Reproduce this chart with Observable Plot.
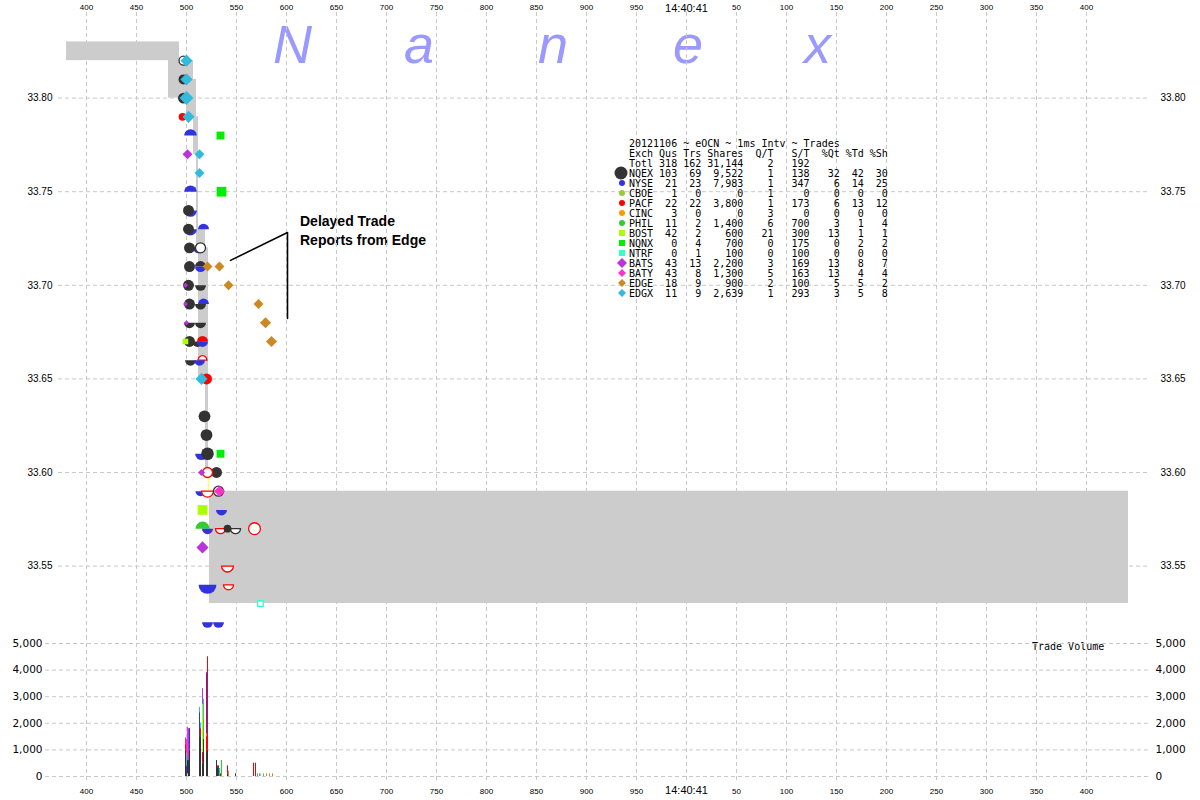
<!DOCTYPE html>
<html><head><meta charset="utf-8">
<script src="https://cdn.jsdelivr.net/npm/d3@7"></script>
<script src="https://cdn.jsdelivr.net/npm/@observablehq/plot@0.6"></script>
<style>
body{margin:0;background:#fff;}
#wrap{position:relative;width:1200px;height:800px;overflow:hidden;background:#fff;}
#wrap > svg{position:absolute;left:0;}
.nx{position:absolute;top:19px;font:italic 54px "Liberation Sans",Arial,sans-serif;line-height:50px;height:50px;color:#9999ff;}
#note{position:absolute;left:300px;top:212px;font:bold 14px "Liberation Sans",Arial,sans-serif;line-height:19px;color:#000;}
#tv{position:absolute;left:1032px;top:642px;font:10px "DejaVu Sans Mono",monospace;line-height:10px;color:#000;white-space:pre;}
</style></head><body>
<div id="wrap">
  <span class="nx" style="left:273px">N</span>
  <span class="nx" style="left:404px">a</span>
  <span class="nx" style="left:538px">n</span>
  <span class="nx" style="left:673px">e</span>
  <span class="nx" style="left:804px">x</span>
  <div id="note">Delayed Trade<br>Reports from Edge</div>
  <div id="tv">Trade Volume</div>
</div>
<script>
// ---------- axis ticks ----------
const msTicks = [400,450,500,550,600,650,700,750,800,850,900,950,1000,1050,1100,1150,1200,1250,1300,1350,1400];
const msTickLabels = ["400","450","500","550","600","650","700","750","800","850","900","950","14:40:41","50","100","150","200","250","300","350","400"];
const priceTicks = [33.55,33.60,33.65,33.70,33.75,33.80];
const volTicks = [0,1000,2000,3000,4000,5000];

// ---------- exchanges / legend table ----------
const exchanges = ["NQEX","NYSE","CBOE","PACF","CINC","PHIL","BOST","NQNX","NTRF","BATS","BATY","EDGE","EDGX"];
const exQus    = [103,21,1,22,3,11,42,0,0,43,43,18,11];
const exTrs    = [69,23,0,22,0,2,2,4,1,13,8,9,9];
const exShares = [9522,7983,0,3800,0,1400,600,700,100,2200,1300,900,2639];
const exQT     = [1,1,1,1,3,6,21,0,0,3,5,2,1];
const exST     = [138,347,0,173,0,700,300,175,100,169,163,100,293];
const exPctQt  = [32,6,0,6,0,3,13,0,0,13,13,5,3];
const exPctTd  = [42,14,0,13,0,1,1,2,0,8,4,5,5];
const exPctSh  = [30,25,0,12,0,4,1,2,0,7,4,2,8];
const totalRow = [318,162,31144,2,192];
const tableTitle = "20121106 ~ eOCN ~ 1ms Intv ~ Trades";
const tableHeader = "Exch Qus Trs Shares  Q/T   S/T  %Qt %Td %Sh";
const exShape = ["circle","circle","circle","circle","circle","circle","square","square","square","diamond","diamond","diamond","diamond"];

// palette (style)
const exColors = ["#333333","#3333dd","#99cc33","#ff0000","#ff9900","#33cc33","#aaff00","#00ee00","#33ffcc","#bb33dd","#ff33cc","#cc8822","#33bbdd"];

// ---------- NBBO band (gray) ----------
const bandStart = [380,482,493,500,507,510,512,519,523];
const bandEnd   = [482,493,500,507,510,512,519,522,1442];
const bandBid   = [33.82,33.80,33.80,33.79,33.77,33.72,33.65,33.60,33.53];
const bandAsk   = [33.83,33.83,33.82,33.82,33.81,33.79,33.73,33.72,33.59];
// crossed market
const crossMs = [522];
const crossBid = [33.60];
const crossAsk = [33.59];

// ---------- quotes & trades ----------
// kind: T trade, B bid, A ask ; open: 1 = hollow
const qMs    = [497,500,497,500,497,500,496,502,504,534,501,513,513,504,535,502,504,502,504,517,503,512,514,503,514,514,521,533,499,502,514,542,499,503,514,517,572,503,514,500,579,499,503,511,516,516,585,504,513,516,515,520,518,520,515,521,534,515,521,530,514,521,532,533,516,535,516,521,534,541,549,568,516,541,521,542,574,521,532];
const qPrice = [33.82,33.82,33.81,33.81,33.80,33.80,33.79,33.79,33.78,33.78,33.77,33.77,33.76,33.75,33.75,33.74,33.74,33.73,33.73,33.73,33.72,33.72,33.72,33.71,33.71,33.71,33.71,33.71,33.70,33.70,33.70,33.70,33.69,33.69,33.69,33.69,33.69,33.68,33.68,33.68,33.68,33.67,33.67,33.67,33.67,33.67,33.67,33.66,33.66,33.66,33.65,33.65,33.63,33.62,33.61,33.61,33.61,33.60,33.60,33.60,33.59,33.59,33.59,33.59,33.58,33.58,33.57,33.57,33.57,33.57,33.57,33.57,33.56,33.55,33.54,33.54,33.53,33.52,33.52];
const qEx    = ["NQEX","EDGX","NQEX","EDGX","NQEX","EDGX","PACF","EDGX","NYSE","NQNX","BATS","EDGX","EDGX","NYSE","NQNX","NQEX","NYSE","NQEX","NYSE","NYSE","NQEX","NYSE","NQEX","NQEX","NYSE","NQEX","EDGE","EDGE","BATS","NQEX","NQEX","EDGE","BATS","NQEX","NQEX","NYSE","EDGE","NQEX","NQEX","BATS","EDGE","BOST","NQEX","NQEX","NYSE","PACF","EDGE","NQEX","NYSE","PACF","EDGX","PACF","NQEX","NQEX","NYSE","NQEX","NQNX","BATS","PACF","NQEX","NYSE","PACF","NQEX","BATY","BOST","NYSE","PHIL","NYSE","PACF","NQEX","NQEX","PACF","BATS","PACF","NYSE","PACF","NTRF","NYSE","NYSE"];
const qKind  = ["T","T","T","T","T","T","T","T","B","T","T","T","T","B","T","T","A","T","A","B","T","A","T","T","A","B","T","T","T","T","A","T","T","T","A","B","T","A","A","T","T","T","T","A","A","B","T","A","A","B","T","T","T","T","A","T","T","T","T","T","A","A","T","T","T","A","B","A","A","T","A","T","T","A","A","A","T","A","A"];
const qOpen  = [1,0,0,0,0,0,0,0,0,0,0,0,0,0,0,0,0,0,0,0,0,0,1,0,0,0,0,0,0,0,0,0,0,0,0,0,0,0,0,0,0,0,0,0,0,0,0,0,0,1,0,0,0,0,0,0,0,0,1,0,0,1,1,0,0,0,0,0,1,0,1,1,0,1,0,1,1,0,0];
const qShares= [200,300,250,300,300,400,150,300,400,200,200,200,200,400,300,300,400,300,400,300,300,300,250,300,300,300,200,200,50,300,300,200,50,300,300,300,200,300,300,50,250,100,300,300,300,300,250,300,300,200,300,300,350,350,400,400,200,100,250,300,250,350,250,250,300,300,500,300,250,150,250,350,300,350,800,250,100,300,300];

// ---------- trade volume ----------
const volMs = [499,499,499,500,500,500,501,501,501,502,502,503,503,513,513,513,514,514,514,516,516,516,516,517,517,517,520,520,520,520,521,521,530,531,531,532,533,534,535,541,541,542,549,567,569,571,573,574,577,580,583,586];
const volEx = ["NQEX","PACF","BATS","NYSE","EDGX","BATY","BOST","NQEX","BATY","NQEX","BATS","NQEX","NYSE","NQEX","NYSE","EDGX","NQEX","PACF","EDGX","NQEX","PACF","BOST","BATS","NQEX","PHIL","EDGX","NQEX","PACF","EDGE","NYSE","NQEX","PACF","NQEX","NQEX","PACF","NYSE","PHIL","PACF","NQNX","NQEX","PACF","EDGE","NQEX","PACF","PACF","EDGE","EDGX","NTRF","EDGE","EDGE","EDGE","EDGE"];
const volShares = [1000,200,250,400,450,550,100,500,1250,600,1200,1000,800,1500,900,200,1500,300,200,500,400,1800,600,1400,800,700,900,600,100,2300,1000,3500,600,300,100,400,300,100,600,100,300,200,100,500,500,100,100,100,100,100,100,100];

// ---------- callout ----------
const calloutMs = [544,601,601];
const calloutPrice = [33.7133,33.7282,33.6823];

// ================= build =================
const wrap = document.getElementById("wrap");
const colorScale = {type:"ordinal", domain: exchanges, range: exColors};
const gridStyle = {stroke:"#c8c8c8", strokeDasharray:"4,3", strokeWidth:1};
const shapeOf = Object.fromEntries(exchanges.map((e,i)=>[e, exShape[i]]));

const dome = {draw(ctx, size){const r=Math.sqrt(size/Math.PI); ctx.moveTo(r,0); ctx.arc(0,0,r,0,Math.PI,true); ctx.closePath();}};
const bowl = {draw(ctx, size){const r=Math.sqrt(size/Math.PI); ctx.moveTo(r,0); ctx.arc(0,0,r,0,Math.PI,false); ctx.closePath();}};
const symDefs = {dome, bowl, circle:"circle", square:"square", diamond:"diamond2"};

const dots = qMs.map((ms,i)=>({ms, price:qPrice[i], ex:qEx[i], kind:qKind[i], open:qOpen[i], shares:qShares[i]}));
const symKey = d => d.kind==="B" ? "dome" : d.kind==="A" ? "bowl" : shapeOf[d.ex];

const band = bandStart.map((t,i)=>({t0:t, t1:bandEnd[i], bid:bandBid[i], ask:bandAsk[i]}));
const cross = crossMs.map((t,i)=>({ms:t, bid:crossBid[i], ask:crossAsk[i]}));
const callout = calloutMs.map((t,i)=>({ms:t, price:calloutPrice[i]}));
const vols = volMs.map((t,i)=>({ms:t, ex:volEx[i], shares:volShares[i]}));

const dotMarks = [];
for (const key of ["dome","bowl","circle","square","diamond"]) {
  for (const open of [0,1]) {
    const sub = dots.filter(d => symKey(d)===key && d.open===open);
    if (!sub.length) continue;
    dotMarks.push(Plot.dot(sub, {x:"ms", y:"price", r:"shares", symbol:symDefs[key],
      fill: open ? "white" : "ex", stroke: open ? "ex" : "none", strokeWidth: 1.3}));
  }
}

const tickLabel = d => msTickLabels[msTicks.indexOf(d)];
const tickSize = d => d===1000 ? 11 : 8;

const pricePlot = Plot.plot({
  width:1200, height:636, marginTop:12, marginBottom:0, marginLeft:58, marginRight:50,
  x:{domain:[372,1464], axis:null},
  y:{domain:[33.51239,33.84573], axis:null},
  r:{type:"sqrt", domain:[0,1000], range:[0,10]},
  color: colorScale,
  style:{background:"transparent", fontFamily:"'Liberation Sans', Arial, sans-serif", overflow:"visible"},
  marks:[
    Plot.ruleX(msTicks, {x:d=>d, ...gridStyle}),
    Plot.ruleY(priceTicks, {y:d=>d, ...gridStyle}),
    Plot.rect(band, {x1:"t0", x2:"t1", y1:"bid", y2:"ask", fill:"#cccccc"}),
    Plot.ruleX(cross, {x:"ms", y1:"bid", y2:"ask", stroke:"#ffff66", strokeWidth:1.5}),
    ...dotMarks,
    Plot.line(callout, {x:"ms", y:"price", stroke:"#000", strokeWidth:1.6}),
    Plot.text(msTicks, {x:d=>d, frameAnchor:"top", dy:-8, text:tickLabel, fontSize:tickSize, fill:"#000"}),
    Plot.text(priceTicks, {y:d=>d, frameAnchor:"left", textAnchor:"end", dx:-6, text:d=>d.toFixed(2), fontSize:10, fill:"#000"}),
    Plot.text(priceTicks, {y:d=>d, frameAnchor:"right", textAnchor:"start", dx:10, text:d=>d.toFixed(2), fontSize:10, fill:"#000"})
  ]
});
pricePlot.style.top = "0px";
wrap.appendChild(pricePlot);

const fmtComma = d3.format(",");
const volPlot = Plot.plot({
  width:1200, height:164, marginTop:7, marginBottom:24, marginLeft:45, marginRight:50,
  x:{domain:[359,1464], axis:null},
  y:{domain:[0,5000], axis:null},
  color: colorScale,
  style:{background:"transparent", fontFamily:"'Liberation Sans', Arial, sans-serif", overflow:"visible"},
  marks:[
    Plot.ruleX(msTicks, {x:d=>d, insetTop:-7, insetBottom:-7, ...gridStyle}),
    Plot.ruleY(volTicks, {y:d=>d, ...gridStyle}),
    Plot.rectY(vols, {x:"ms", y:"shares", fill:"ex", interval:1, inset:0}),
    Plot.text(msTicks, {x:d=>d, frameAnchor:"bottom", dy:17, text:tickLabel, fontSize:tickSize, fill:"#000"}),
    Plot.text(volTicks, {y:d=>d, frameAnchor:"left", textAnchor:"end", dx:-3, text:d=>fmtComma(d), fontSize:10.5, fontFamily:"'DejaVu Sans', sans-serif", fill:"#000"}),
    Plot.text(volTicks, {y:d=>d, frameAnchor:"right", textAnchor:"start", dx:5, text:d=>fmtComma(d), fontSize:10.5, fontFamily:"'DejaVu Sans', sans-serif", fill:"#000"})
  ]
});
volPlot.style.top = "636px";
wrap.appendChild(volPlot);

// ---------- legend table overlay ----------
const pad = (v,w) => String(v).padStart(w);
const widths = [4,4,7,5,6,5,4,4];
function rowText(name, vals){
  return name + vals.map((v,i)=>pad(i===2 ? fmtComma(v) : v, widths[i])).join("");
}
const lines = [tableTitle, tableHeader, rowText("Totl", totalRow)];
exchanges.forEach((e,i)=>{
  lines.push(rowText(e, [exQus[i],exTrs[i],exShares[i],exQT[i],exST[i],exPctQt[i],exPctTd[i],exPctSh[i]]));
});
const ov = d3.select(wrap).append("svg").attr("width",1200).attr("height",800)
  .style("top","0px").style("pointer-events","none");
ov.selectAll("text.row").data(lines).join("text")
  .attr("x",629).attr("y",(d,i)=>147+10*i)
  .attr("font-family","'DejaVu Sans Mono', monospace").attr("font-size",10)
  .attr("fill","#000").style("white-space","pre").attr("xml:space","preserve")
  .text(d=>d);
exchanges.forEach((e,i)=>{
  const cy = 173 + 10*i, cx = 622, col = exColors[i];
  if (exShape[i]==="circle") {
    ov.append("circle").attr("cx", i===0 ? 621 : cx).attr("cy",cy).attr("r", i===0 ? 6.5 : 3).attr("fill",col);
  } else if (exShape[i]==="square") {
    ov.append("rect").attr("x",cx-3).attr("y",cy-3).attr("width",6).attr("height",6).attr("fill",col);
  } else {
    const h = e==="BATS" ? 5 : 4;
    ov.append("path").attr("d",`M${cx},${cy-h}L${cx+h},${cy}L${cx},${cy+h}L${cx-h},${cy}Z`).attr("fill",col);
  }
});
</script>
</body></html>
